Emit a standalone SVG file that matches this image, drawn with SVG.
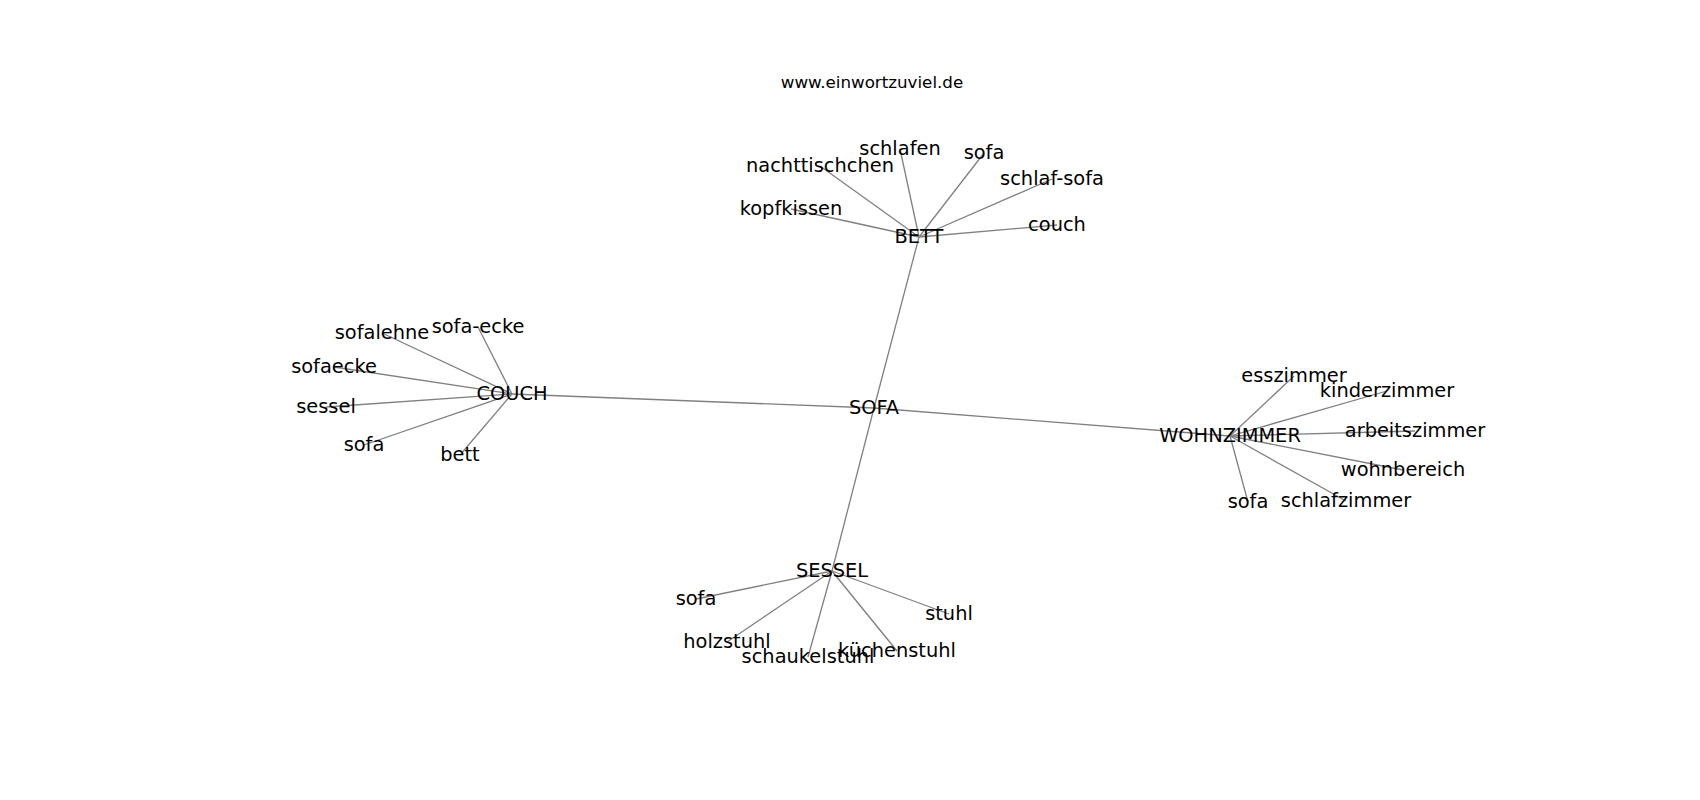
<svg xmlns="http://www.w3.org/2000/svg" width="1700" height="800" viewBox="0 0 1700 800">
<style>
.e{stroke:#808080;stroke-width:1.3;fill:none}
.l{font-family:"DejaVu Sans","Liberation Sans",sans-serif;font-size:19.4px;fill:#000;text-anchor:middle}
.t{font-family:"DejaVu Sans","Liberation Sans",sans-serif;font-size:16.7px;fill:#000;text-anchor:middle}
</style>
<rect width="1700" height="800" fill="#fff"/>
<text class="t" x="872" y="88">www.einwortzuviel.de</text>
<g id="edges">
<line class="e" x1="874" y1="408" x2="919" y2="237"/>
<line class="e" x1="874" y1="408" x2="512" y2="394"/>
<line class="e" x1="874" y1="408" x2="1230" y2="436"/>
<line class="e" x1="874" y1="408" x2="832" y2="571"/>
<line class="e" x1="919" y1="237" x2="900" y2="149"/>
<line class="e" x1="919" y1="237" x2="984" y2="153"/>
<line class="e" x1="919" y1="237" x2="820" y2="166"/>
<line class="e" x1="919" y1="237" x2="1052" y2="179"/>
<line class="e" x1="919" y1="237" x2="791" y2="209"/>
<line class="e" x1="919" y1="237" x2="1057" y2="225"/>
<line class="e" x1="512" y1="394" x2="382" y2="333"/>
<line class="e" x1="512" y1="394" x2="478" y2="327"/>
<line class="e" x1="512" y1="394" x2="334" y2="367"/>
<line class="e" x1="512" y1="394" x2="326" y2="407"/>
<line class="e" x1="512" y1="394" x2="364" y2="445"/>
<line class="e" x1="512" y1="394" x2="460" y2="455"/>
<line class="e" x1="1230" y1="436" x2="1294" y2="376"/>
<line class="e" x1="1230" y1="436" x2="1387" y2="391"/>
<line class="e" x1="1230" y1="436" x2="1415" y2="431"/>
<line class="e" x1="1230" y1="436" x2="1403" y2="470"/>
<line class="e" x1="1230" y1="436" x2="1248" y2="502"/>
<line class="e" x1="1230" y1="436" x2="1346" y2="501"/>
<line class="e" x1="832" y1="571" x2="696" y2="599"/>
<line class="e" x1="832" y1="571" x2="949" y2="614"/>
<line class="e" x1="832" y1="571" x2="727" y2="642"/>
<line class="e" x1="832" y1="571" x2="808" y2="657"/>
<line class="e" x1="832" y1="571" x2="897" y2="651"/>
</g>
<g id="n-sofa"><text class="l" x="874" y="414">SOFA</text></g>
<g id="n-bett"><text class="l" x="919" y="243">BETT</text></g>
<g id="n-bett-schlafen"><text class="l" x="900" y="155">schlafen</text></g>
<g id="n-bett-sofa"><text class="l" x="984" y="159">sofa</text></g>
<g id="n-bett-nachttischchen"><text class="l" x="820" y="172">nachttischchen</text></g>
<g id="n-bett-schlaf-sofa"><text class="l" x="1052" y="185">schlaf-sofa</text></g>
<g id="n-bett-kopfkissen"><text class="l" x="791" y="215">kopfkissen</text></g>
<g id="n-bett-couch"><text class="l" x="1057" y="231">couch</text></g>
<g id="n-couch"><text class="l" x="512" y="400">COUCH</text></g>
<g id="n-couch-sofalehne"><text class="l" x="382" y="339">sofalehne</text></g>
<g id="n-couch-sofa-ecke"><text class="l" x="478" y="333">sofa-ecke</text></g>
<g id="n-couch-sofaecke"><text class="l" x="334" y="373">sofaecke</text></g>
<g id="n-couch-sessel"><text class="l" x="326" y="413">sessel</text></g>
<g id="n-couch-sofa"><text class="l" x="364" y="451">sofa</text></g>
<g id="n-couch-bett"><text class="l" x="460" y="461">bett</text></g>
<g id="n-wohnzimmer"><text class="l" x="1230" y="442">WOHNZIMMER</text></g>
<g id="n-wz-esszimmer"><text class="l" x="1294" y="382">esszimmer</text></g>
<g id="n-wz-kinderzimmer"><text class="l" x="1387" y="397">kinderzimmer</text></g>
<g id="n-wz-arbeitszimmer"><text class="l" x="1415" y="437">arbeitszimmer</text></g>
<g id="n-wz-wohnbereich"><text class="l" x="1403" y="476">wohnbereich</text></g>
<g id="n-wz-sofa"><text class="l" x="1248" y="508">sofa</text></g>
<g id="n-wz-schlafzimmer"><text class="l" x="1346" y="507">schlafzimmer</text></g>
<g id="n-sessel"><text class="l" x="832" y="577">SESSEL</text></g>
<g id="n-sessel-sofa"><text class="l" x="696" y="605">sofa</text></g>
<g id="n-sessel-stuhl"><text class="l" x="949" y="620">stuhl</text></g>
<g id="n-sessel-holzstuhl"><text class="l" x="727" y="648">holzstuhl</text></g>
<g id="n-sessel-schaukelstuhl"><text class="l" x="808" y="663">schaukelstuhl</text></g>
<g id="n-sessel-kuechenstuhl"><text class="l" x="897" y="657">küchenstuhl</text></g>
</svg>
